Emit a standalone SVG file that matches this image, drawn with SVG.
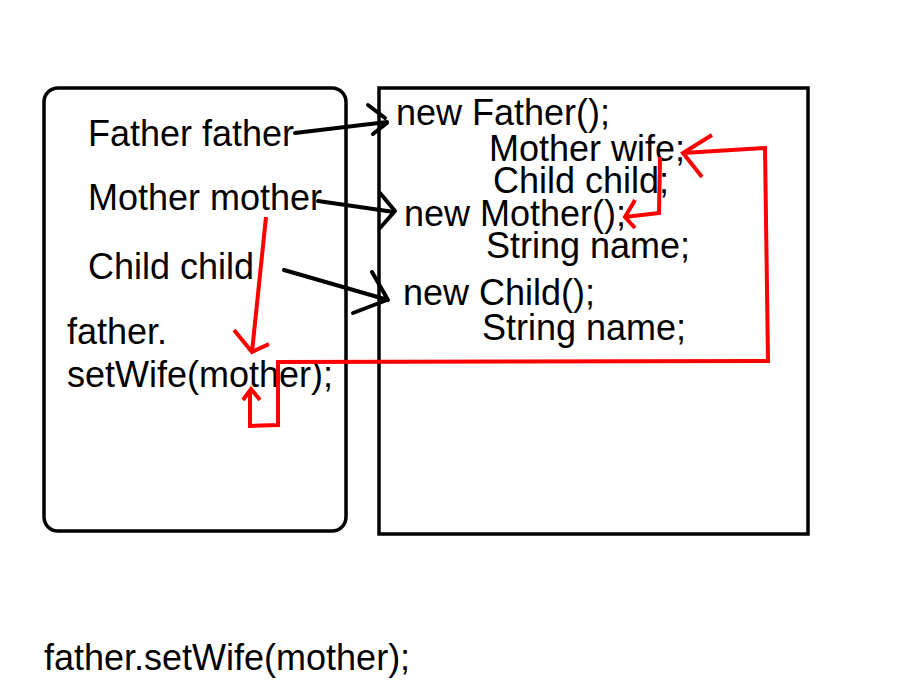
<svg xmlns="http://www.w3.org/2000/svg" width="900" height="700" viewBox="0 0 900 700">
<style>
text{font-family:"Liberation Sans",Arial,sans-serif;font-size:36px;fill:#000}
.box{fill:none;stroke:#000;stroke-width:3.5}
.blk{fill:none;stroke:#000;stroke-width:4;stroke-linecap:round;stroke-linejoin:round}
.red{fill:none;stroke:#ff0000;stroke-width:4;stroke-linecap:butt;stroke-linejoin:miter}
</style>
<rect width="900" height="700" fill="#fff"/>
<g id="stack">
<rect class="box" x="44" y="88" width="302" height="443" rx="14"/>
<text x="88" y="146">Father father</text>
<text x="88" y="210">Mother mother</text>
<text x="88" y="279">Child child</text>
<text x="67" y="344">father.</text>
<text x="67" y="387">setWife(mother);</text>
</g>
<g id="heap">
<rect class="box" x="379" y="88" width="429" height="446"/>
<text x="396" y="125">new Father();</text>
<text x="489" y="161">Mother wife;</text>
<text x="493" y="193">Child child;</text>
<text x="404" y="226">new Mother();</text>
<text x="486" y="258">String name;</text>
<text x="403" y="305">new Child();</text>
<text x="482" y="340">String name;</text>
</g>
<g id="caption">
<text x="44" y="670">father.setWife(mother);</text>
</g>
<g id="connectors">
<path class="blk" d="M295,133 L387,122 M368,105 L385,118 M373,134 L387,123"/>
<path class="blk" d="M318,201 L394,212 M380,193 L395,211 L380,228"/>
<path class="blk" d="M284,270 L388,300 M372,272 L388,300 M353,313 L387,300"/>
<path class="red" d="M266,217 L252,352 M234,330 L252,352 L269,344"/>
<path class="red" d="M250,390 L250,426 L278,425 L278,362 L768,361 L765,148 L683,153 M712,135 L683,153 L702,177"/>
<path class="red" d="M660,157 L659,213 L625,217 M635,200 L625,217 L635,228"/>
<path class="red" d="M243,400 L251,389 L260,400"/>
</g>
</svg>
